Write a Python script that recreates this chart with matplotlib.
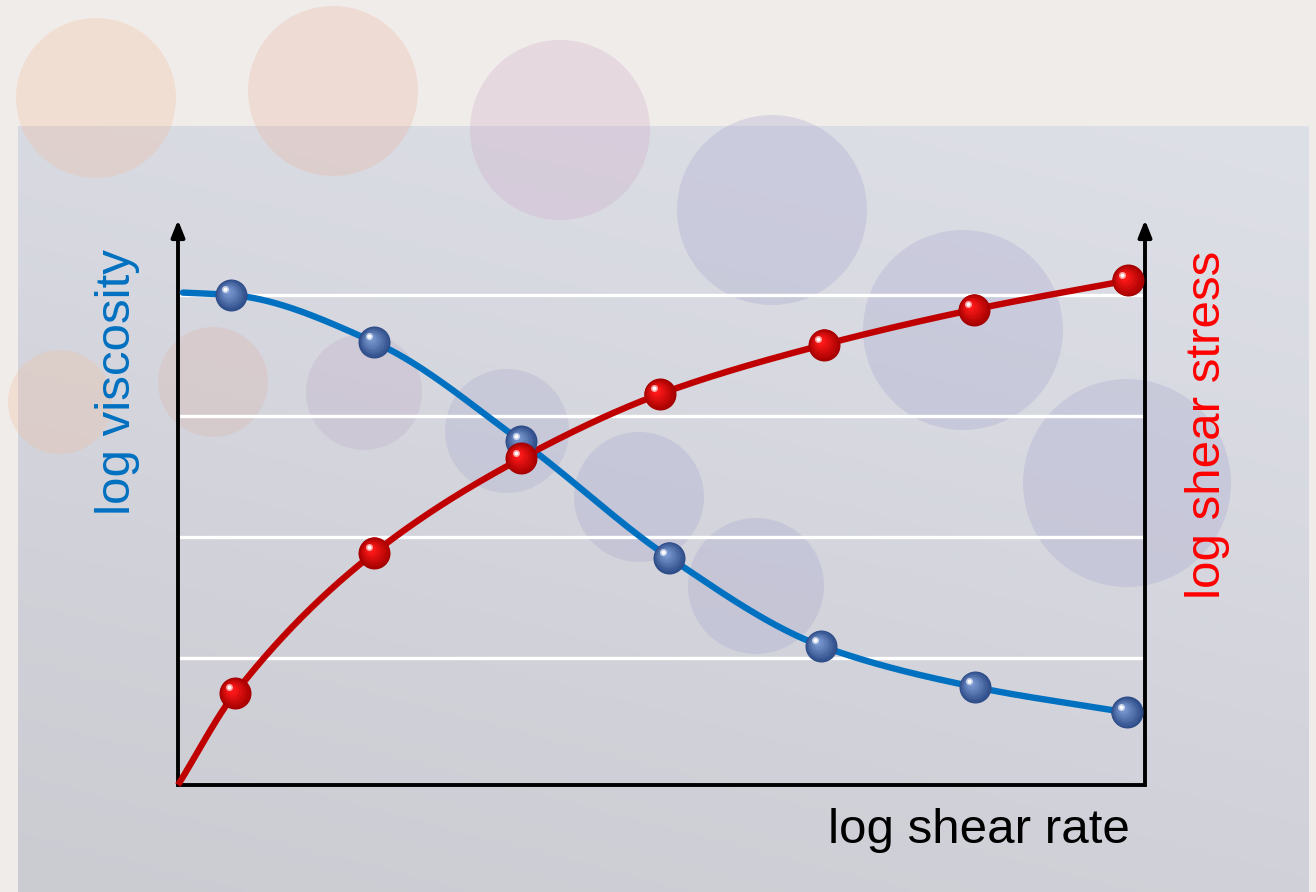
import numpy as np
import matplotlib
matplotlib.use("Agg")
import matplotlib.pyplot as plt
import matplotlib.patches as mpatches
import matplotlib.transforms as mtransforms

plt.rcParams['font.family'] = ['Liberation Sans', 'DejaVu Sans']

# --- data (arbitrary log units) ---
visc_x = [0.05, 0.55, 2.03, 3.55, 5.08, 6.65, 8.24, 9.81]
visc_y = [4.02, 4.00, 3.61, 2.79, 1.83, 1.10, 0.76, 0.55]
stress_x = [0.00, 0.59, 2.03, 3.55, 4.98, 6.68, 8.23, 9.82]
stress_y = [-0.05, 0.71, 1.87, 2.65, 3.18, 3.59, 3.88, 4.12]
grid_levels = [1, 2, 3, 4]

W, H, DPI = 1316, 892, 100


def monotone_curve(x, y, n=400):
    # Fritsch-Carlson monotone cubic, only used to draw a smooth line
    x = np.asarray(x, float)
    y = np.asarray(y, float)
    h = np.diff(x)
    d = np.diff(y) / h
    m = np.zeros_like(y)
    m[0], m[-1] = d[0], d[-1]
    for i in range(1, len(x) - 1):
        if d[i - 1] * d[i] <= 0:
            m[i] = 0
        else:
            w1 = 2 * h[i] + h[i - 1]
            w2 = h[i] + 2 * h[i - 1]
            m[i] = (w1 + w2) / (w1 / d[i - 1] + w2 / d[i])
    xs = np.linspace(x[0], x[-1], n)
    k = np.clip(np.searchsorted(x, xs) - 1, 0, len(x) - 2)
    t = (xs - x[k]) / h[k]
    h00 = 2 * t**3 - 3 * t**2 + 1
    h10 = t**3 - 2 * t**2 + t
    h01 = -2 * t**3 + 3 * t**2
    h11 = t**3 - t**2
    ys = h00 * y[k] + h10 * h[k] * m[k] + h01 * y[k + 1] + h11 * h[k] * m[k + 1]
    return xs, ys


def draw_spheres(ax, fig, xs, ys, dark, light, r=16, z=5):
    # glossy ball: stacked discs getting lighter towards the upper left
    dark = np.array(dark) / 255
    light = np.array(light) / 255
    n = 16
    for i in range(n):
        t = i / (n - 1)
        rad = r * (1 - 0.8 * t)
        tr = mtransforms.offset_copy(ax.transData, fig=fig,
                                     x=-0.25 * r * t, y=0.25 * r * t, units='dots')
        col = dark * (1 - t) + light * t
        ax.scatter(xs, ys, s=(2 * rad * 72 / DPI) ** 2, color=col,
                   transform=tr, zorder=z + i * 0.01, linewidths=0, clip_on=False)
    tr = mtransforms.offset_copy(ax.transData, fig=fig, x=-0.36 * r, y=0.36 * r, units='dots')
    ax.scatter(xs, ys, s=(2 * 0.22 * r * 72 / DPI) ** 2, color='white', alpha=0.6,
               transform=tr, zorder=z + 0.5, linewidths=0, clip_on=False)
    ax.scatter(xs, ys, s=(2 * 0.12 * r * 72 / DPI) ** 2, color='white',
               transform=tr, zorder=z + 0.6, linewidths=0, clip_on=False)


fig = plt.figure(figsize=(W / DPI, H / DPI), dpi=DPI)
fig.patch.set_facecolor('#f0ecea')

# background layer in pixel coordinates
bg = fig.add_axes([0, 0, 1, 1])
bg.set_xlim(0, W)
bg.set_ylim(H, 0)
bg.axis('off')

# gradient panel
gy, gx = np.mgrid[0:1:200j, 0:1:200j]
tval = (gy * 0.8 + (1 - gx) * 0.35) / 1.15
top = np.array([222, 224, 232]) / 255
bot = np.array([203, 203, 210]) / 255
img = top[None, None, :] * (1 - tval[..., None]) + bot[None, None, :] * tval[..., None]
bg.imshow(img, extent=[18, 1309, 892, 126], aspect='auto', zorder=1)

circles = [
    (96, 98, 80, (240, 190, 160)),
    (333, 91, 85, (235, 180, 160)),
    (560, 130, 90, (205, 170, 200)),
    (772, 210, 95, (165, 165, 205)),
    (963, 330, 100, (165, 165, 205)),
    (1127, 483, 104, (165, 165, 205)),
    (60, 402, 52, (240, 190, 160)),
    (213, 382, 55, (220, 180, 170)),
    (364, 392, 58, (190, 170, 200)),
    (507, 431, 62, (168, 168, 205)),
    (639, 497, 65, (165, 165, 205)),
    (756, 586, 68, (165, 165, 205)),
]
for cx, cy, r, c in circles:
    bg.add_patch(mpatches.Circle((cx, cy), r, color=np.array(c) / 255,
                                 alpha=0.3, lw=0, zorder=2))

# chart area
x0, x1, yb, yt = 178, 1145, 785, 220
ax = fig.add_axes([x0 / W, (H - yb) / H, (x1 - x0) / W, (yb - yt) / H])
ax.set_xlim(0, 10)
ax.set_ylim(-0.05, 4.62)
ax.patch.set_alpha(0)
for s in ['top', 'right', 'left', 'bottom']:
    ax.spines[s].set_visible(False)
ax.set_xticks([])
ax.set_yticks([])

for g in grid_levels:
    ax.axhline(g, color='white', lw=2.4, zorder=1)

# axes lines with arrows
ax.plot([0, 10], [-0.05, -0.05], color='black', lw=2.8, zorder=3, clip_on=False,
        solid_capstyle='projecting')
for xa in [0, 10]:
    ax.annotate('', xy=(xa, 4.62), xytext=(xa, -0.05),
                arrowprops=dict(arrowstyle='-|>,head_length=1.0,head_width=0.4',
                                color='black', lw=2.8, shrinkA=0, shrinkB=0),
                zorder=3, annotation_clip=False)

bx, by = monotone_curve(visc_x, visc_y)
rx, ry = monotone_curve(stress_x, stress_y)
ax.plot(bx, by, color='#0070c0', lw=4.6, zorder=4, solid_capstyle='round', clip_on=False)
ax.plot(rx, ry, color='#c00000', lw=4.6, zorder=4, solid_capstyle='butt', clip_on=False)

draw_spheres(ax, fig, visc_x[1:], visc_y[1:], (45, 75, 135), (120, 150, 205), z=5)
draw_spheres(ax, fig, stress_x[1:], stress_y[1:], (165, 0, 0), (255, 25, 25), z=6)

fs = 35.5
fig.text(117 / W, 1 - 382 / H, 'log viscosity', color='#0070c0', fontsize=fs,
         rotation=90, ha='center', va='center')
fig.text(1207 / W, 1 - 425 / H, 'log shear stress', color='#ff0000', fontsize=fs,
         rotation=90, ha='center', va='center')
fig.text(1130 / W, 1 - 843 / H, 'log shear rate', color='black', fontsize=fs,
         ha='right', va='baseline')

fig.savefig('out.png', dpi=DPI)
